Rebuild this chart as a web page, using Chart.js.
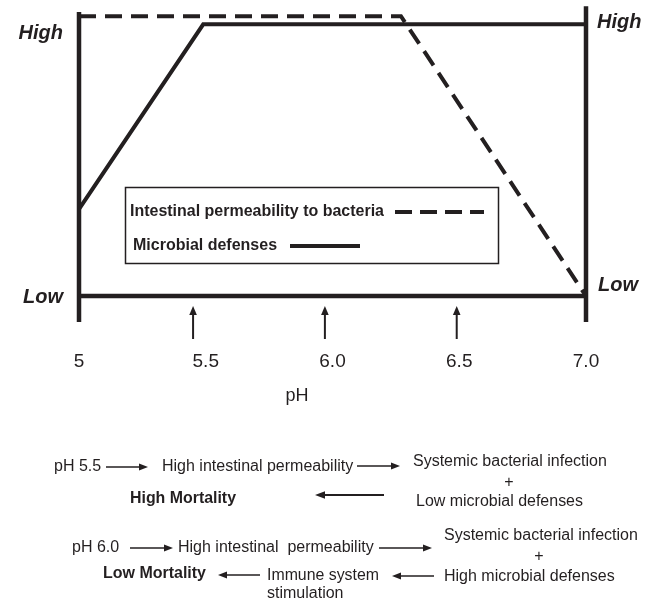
<!DOCTYPE html>
<html>
<head>
<meta charset="utf-8">
<script src="https://cdn.jsdelivr.net/npm/chart.js@4.4.1/dist/chart.umd.min.js"></script>
<style>
  html, body { margin: 0; padding: 0; background: #fff; }
  #wrap { width: 655px; height: 600px; }
</style>
</head>
<body>
<div id="wrap"><canvas id="phChart" width="655" height="600"></canvas></div>
<script>
// pH values (x) and relative levels (y: 0 = Low, 1 = High)
const permPH = [5, 6.27, 7];
const permLevel = [1.03, 1.03, 0];
const defPH = [5, 5.49, 7];
const defLevel = [0.32, 1, 1];

const tickPH = [5, 5.5, 6, 6.5, 7];
const tickLabels = ["5", "5.5", "6.0", "6.5", "7.0"];
const arrowPH = [5.45, 5.97, 6.49];

const seriesNames = ["Intestinal permeability to bacteria", "Microbial defenses"];

const ink = "#231f20";
const sans = "'Liberation Sans', Arial, Helvetica, sans-serif";

function toPoints(xs, ys) {
    return xs.map((x, i) => ({ x: x, y: ys[i] }));
}

function drawArrow(ctx, x1, y1, x2, y2, head, half, lw) {
    const ang = Math.atan2(y2 - y1, x2 - x1);
    const bx = x2 - head * Math.cos(ang);
    const by = y2 - head * Math.sin(ang);
    ctx.beginPath();
    ctx.lineWidth = lw;
    ctx.moveTo(x1, y1);
    ctx.lineTo(bx, by);
    ctx.stroke();
    ctx.beginPath();
    ctx.moveTo(x2, y2);
    ctx.lineTo(bx + half * Math.sin(ang), by - half * Math.cos(ang));
    ctx.lineTo(bx - half * Math.sin(ang), by + half * Math.cos(ang));
    ctx.closePath();
    ctx.fill();
}

function label(ctx, str, x, y, font, align, maxW) {
    ctx.font = font;
    ctx.textAlign = align || "left";
    ctx.textBaseline = "middle";
    if (maxW) ctx.fillText(str, x, y, maxW);
    else ctx.fillText(str, x, y);
}

const framePlugin = {
    id: "frame",
    afterDatasetsDraw(chart) {
        const ctx = chart.ctx;
        const xs = chart.scales.x;
        const ys = chart.scales.y;
        const area = chart.chartArea;
        const x5 = xs.getPixelForValue(5);
        const x7 = xs.getPixelForValue(7);
        const y0 = ys.getPixelForValue(0);

        ctx.save();
        ctx.strokeStyle = ink;
        ctx.fillStyle = ink;
        ctx.lineCap = "butt";

        // axes
        ctx.lineWidth = 4.5;
        ctx.beginPath();
        ctx.moveTo(x5, ys.getPixelForValue(1.045));
        ctx.lineTo(x5, area.bottom);
        ctx.moveTo(x7, ys.getPixelForValue(1.066));
        ctx.lineTo(x7, area.bottom);
        ctx.moveTo(x5, y0);
        ctx.lineTo(x7, y0);
        ctx.stroke();

        // High / Low labels
        const bi = "italic bold 20px " + sans;
        label(ctx, "High", 63, 33, bi, "right");
        label(ctx, "Low", 63, 297, bi, "right");
        label(ctx, "High", 597, 22, bi, "left");
        label(ctx, "Low", 598, 285, bi, "left");

        // arrows under the axis
        arrowPH.forEach(v => {
            const px = xs.getPixelForValue(v);
            drawArrow(ctx, px, 339, px, 306, 9, 3.8, 2);
        });

        // tick labels and axis title
        tickPH.forEach((v, i) => {
            label(ctx, tickLabels[i], xs.getPixelForValue(v), 362, "19px " + sans, "center");
        });
        label(ctx, "pH", 297, 396, "18px " + sans, "center");

        // legend box
        ctx.lineWidth = 1.5;
        ctx.strokeRect(125.5, 187.5, 373, 76);
        const lb = "bold 16px " + sans;
        label(ctx, seriesNames[0], 130, 212, lb, "left", 254);
        label(ctx, seriesNames[1], 133, 246, lb, "left");
        ctx.lineWidth = 4;
        ctx.setLineDash([17, 8]);
        ctx.beginPath();
        ctx.moveTo(395, 212);
        ctx.lineTo(484, 212);
        ctx.stroke();
        ctx.setLineDash([]);
        ctx.beginPath();
        ctx.moveTo(290, 246);
        ctx.lineTo(360, 246);
        ctx.stroke();

        // pathway diagram below the chart
        const reg = "16px " + sans;
        const bold = "bold 16px " + sans;
        label(ctx, "pH 5.5", 54, 467, reg, "left");
        drawArrow(ctx, 106, 467, 148, 467, 9, 3.5, 1.6);
        label(ctx, "High intestinal permeability", 162, 467, reg, "left", 193);
        drawArrow(ctx, 357, 466, 400, 466, 9, 3.5, 1.6);
        label(ctx, "Systemic bacterial infection", 413, 462, reg, "left", 195);
        label(ctx, "+", 509, 483, reg, "center");
        label(ctx, "Low microbial defenses", 416, 502, reg, "left", 167);
        label(ctx, "High Mortality", 130, 499, bold, "left", 106);
        drawArrow(ctx, 384, 495, 315, 495, 10, 3.8, 2);

        label(ctx, "pH 6.0", 72, 548, reg, "left");
        drawArrow(ctx, 130, 548, 173, 548, 9, 3.5, 1.6);
        label(ctx, "High intestinal  permeability", 178, 548, reg, "left", 196);
        drawArrow(ctx, 379, 548, 432, 548, 9, 3.5, 1.6);
        label(ctx, "Systemic bacterial infection", 444, 536, reg, "left", 194);
        label(ctx, "+", 539, 557, reg, "center");
        label(ctx, "High microbial defenses", 444, 577, reg, "left", 171);
        drawArrow(ctx, 434, 576, 392, 576, 9, 3.5, 1.6);
        label(ctx, "Immune system", 267, 576, reg, "left", 112);
        label(ctx, "stimulation", 267, 594, reg, "left");
        drawArrow(ctx, 260, 575, 218, 575, 9, 3.5, 1.6);
        label(ctx, "Low Mortality", 103, 574, bold, "left", 103);

        ctx.restore();
    }
};

const ctx = document.getElementById("phChart").getContext("2d");

new Chart(ctx, {
    type: "line",
    data: {
        datasets: [
            {
                label: seriesNames[0],
                data: toPoints(permPH, permLevel),
                borderColor: ink,
                borderWidth: 4,
                borderDash: [17, 9],
                pointRadius: 0,
                tension: 0,
                fill: false,
                clip: false
            },
            {
                label: seriesNames[1],
                data: toPoints(defPH, defLevel),
                borderColor: ink,
                borderWidth: 4,
                pointRadius: 0,
                tension: 0,
                fill: false,
                clip: false
            }
        ]
    },
    options: {
        responsive: false,
        animation: false,
        devicePixelRatio: 1,
        layout: { padding: { left: 79, right: 69, top: 5, bottom: 278 } },
        plugins: {
            legend: { display: false },
            tooltip: { enabled: false }
        },
        scales: {
            x: { type: "linear", min: 5, max: 7, display: false },
            y: { type: "linear", min: -0.0957, max: 1.071, display: false }
        }
    },
    plugins: [framePlugin]
});
</script>
</body>
</html>
